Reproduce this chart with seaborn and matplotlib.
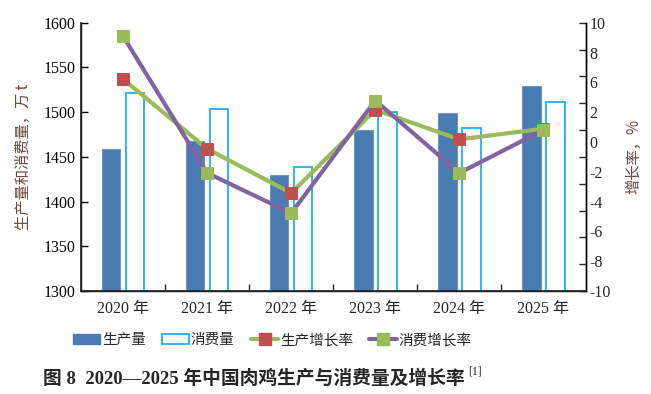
import numpy as np
import pandas as pd
import matplotlib
matplotlib.use("Agg")
import matplotlib.pyplot as plt
import seaborn as sns
from matplotlib.patches import Patch
from matplotlib.lines import Line2D

years = ["2020 年", "2021 年", "2022 年", "2023 年", "2024 年", "2025 年"]
production = [1459, 1468, 1430, 1480, 1499, 1529]
consumption = [1521, 1503, 1439, 1500, 1482, 1511]
prod_growth = [5.8, 0.6, -2.7, 3.5, 1.3, 2.1]
cons_growth = [9.0, -1.2, -4.2, 4.2, -1.2, 2.0]
right_tick_labels = ["10", "8", "6", "2", "0", "-2", "-4", "-6", "-8", "-10"]
series_names = ["生产量", "消费量", "生产增长率", "消费增长率"]

sns.set_theme(style="white")
plt.rcParams["font.family"] = ["Liberation Serif", "Noto Sans CJK SC", "DejaVu Sans"]

C_PROD = "#4a7bb3"
C_CONS = "#22b1e8"
C_GREEN = "#9bbb59"
C_RED = "#c0504d"
C_PURPLE = "#8064a2"
C_LABEL = "#6b4a3c"

fig = plt.figure(figsize=(6.51, 3.94), dpi=100)
ax = fig.add_axes([81 / 651, 1 - 291 / 394, (585.5 - 81) / 651, (291 - 22.7) / 394])

df = pd.DataFrame({
    "year": years * 2,
    "value": production + consumption,
    "series": [series_names[0]] * 6 + [series_names[1]] * 6,
})
sns.barplot(data=df, x="year", y="value", hue="series", ax=ax,
            palette=[C_PROD, C_CONS], width=0.572, gap=0.23,
            legend=False, saturation=1)
for p in ax.containers[0]:
    p.set_facecolor(C_PROD)
    p.set_edgecolor("#6d95c6")
    p.set_linewidth(0.8)
for p in ax.containers[1]:
    p.set_facecolor("white")
    p.set_edgecolor(C_CONS)
    p.set_linewidth(1.3)

ax.set_ylim(1300, 1600)
ax.set_yticks(np.arange(1300, 1601, 50))
ax.set_xlim(-0.5, 5.5)
ax.set_xlabel("")
ax.set_ylabel("生产量和消费量，万 t", color=C_LABEL, fontsize=11,
              family=["Noto Sans CJK SC", "Liberation Serif"], labelpad=8)
ax.tick_params(axis="y", direction="in", length=5, width=1, labelsize=11.5,
               colors="black", left=True, pad=4)
ax.tick_params(axis="x", which="major", length=0, labelsize=11.5, pad=7)
ax.set_xticks(np.arange(0.5, 5, 1), minor=True)
ax.tick_params(axis="x", which="minor", direction="in", length=5, width=1, bottom=True)
ax.spines["top"].set_visible(False)
for s in ["left", "bottom", "right"]:
    ax.spines[s].set_color("black")
    ax.spines[s].set_linewidth(1)

ax2 = ax.twinx()
x = np.arange(len(years))
sns.lineplot(x=x, y=prod_growth, ax=ax2, color=C_GREEN, lw=3, marker="s",
             markersize=9, markerfacecolor=C_RED, markeredgecolor=C_RED, zorder=3)
sns.lineplot(x=x, y=cons_growth, ax=ax2, color=C_PURPLE, lw=3, marker="s",
             markersize=9, markerfacecolor=C_GREEN, markeredgecolor=C_GREEN, zorder=4)
ax2.set_ylim(-10, 10)
ax2.yaxis.remove_overlapping_locs = False
ax2.set_yticks(np.linspace(10, -10, len(right_tick_labels)))
ax2.set_yticklabels(right_tick_labels)
ax2.set_yticks(np.arange(-10, 11, 2), minor=True)
ax2.tick_params(axis="y", which="major", length=0, labelsize=11.5, pad=3, right=True)
ax2.tick_params(axis="y", which="minor", direction="in", length=5, width=1, right=True)
ax2.set_ylabel("增长率，%", color=C_LABEL, fontsize=11,
               family=["Noto Sans CJK SC", "Liberation Serif"], labelpad=10)
ax2.spines["top"].set_visible(False)
ax2.spines["right"].set_color("black")
ax2.spines["right"].set_linewidth(1)
ax2.grid(False)
ax.grid(False)

handles = [
    Patch(facecolor=C_PROD, edgecolor=C_PROD),
    Patch(facecolor="white", edgecolor=C_CONS, linewidth=1.3),
    Line2D([0], [0], color=C_GREEN, lw=3, marker="s", markersize=8,
           markerfacecolor=C_RED, markeredgecolor=C_RED),
    Line2D([0], [0], color=C_PURPLE, lw=3, marker="s", markersize=8,
           markerfacecolor=C_GREEN, markeredgecolor=C_GREEN),
]
fig.legend(handles, series_names, loc="center", bbox_to_anchor=(272 / 651, 1 - 340 / 394),
           ncol=4, frameon=False, handlelength=1.9, handletextpad=0.1,
           columnspacing=1.1, prop={"family": ["Noto Sans CJK SC"], "size": 10.5})

fig.text(43 / 651, 1 - 379 / 394, "图 8  2020—2025 年中国肉鸡生产与消费量及增长率",
         ha="left", va="center", fontsize=13.5, fontweight="bold",
         family=["Liberation Serif", "Noto Sans CJK SC"])
fig.text(468 / 651, 1 - 371 / 394, "[1]", ha="left", va="center", fontsize=8.5,
         family=["Liberation Serif"])

fig.savefig("out.png", dpi=100)
